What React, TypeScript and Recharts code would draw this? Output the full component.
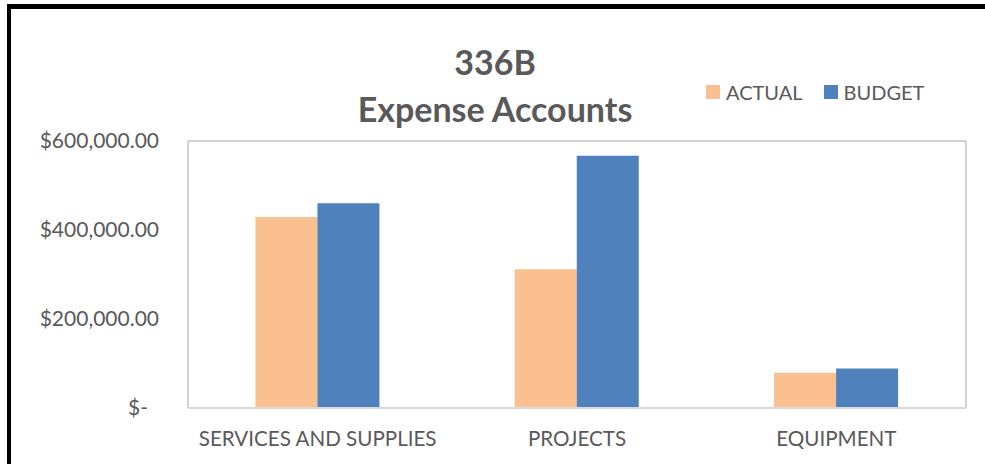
import { BarChart, Bar, XAxis, YAxis, Legend, ReferenceArea } from "recharts"

const categories = ["SERVICES AND SUPPLIES", "PROJECTS", "EQUIPMENT"]
const actual = [429000, 312000, 79000]
const budget = [460000, 567000, 89000]
const yTicks = [0, 200000, 400000, 600000]

const data = categories.map((name, i) => ({ name, ACTUAL: actual[i], BUDGET: budget[i] }))

const font = "Lato, 'Open Sans', sans-serif"
const textColor = "#595959"

function money(v: number) {
  if (v === 0) return "$-"
  return "$" + v.toLocaleString("en-US", { minimumFractionDigits: 2, maximumFractionDigits: 2 })
}

function YTick({ x, y, payload }: any) {
  const v = payload.value
  // excel accounting format leaves trailing space after "$-"
  return (
    <text x={v === 0 ? x - 11 : x} y={y} dy="0.35em" textAnchor="end" fill={textColor} fontSize={21} fontFamily={font}>
      {money(v)}
    </text>
  )
}

function XTick({ x, y, payload }: any) {
  return (
    <text x={x} y={y} dy="0.71em" textAnchor="middle" fill={textColor} fontSize={20.6} fontFamily={font}>
      {payload.value}
    </text>
  )
}

function LegendContent({ payload }: any) {
  return (
    <div style={{ display: "flex", alignItems: "center", fontFamily: font, fontSize: 20, color: textColor }}>
      {(payload || []).map((p: any, i: number) => (
        <div key={p.value} style={{ display: "flex", alignItems: "center", marginRight: i === 0 ? 21 : 0 }}>
          <span style={{ width: 14, height: 14, background: p.color, marginRight: 6, display: "inline-block" }} />
          <span>{p.value}</span>
        </div>
      ))}
    </div>
  )
}

export default function App() {
  return (
    <div style={{ position: "absolute", left: 0, top: 0, width: 985, height: 464, overflow: "hidden", background: "#fff" }}>
      <div style={{ position: "absolute", left: 7, top: 4, width: 2000, height: 2000, borderLeft: "4px solid #000", borderTop: "5px solid #000" }} />
      <div
        style={{
          position: "absolute",
          left: 0,
          top: 38,
          width: 990,
          textAlign: "center",
          fontFamily: font,
          fontWeight: 700,
          fontSize: 34,
          lineHeight: "47px",
          color: textColor,
        }}
      >
        <div>336B</div>
        <div>Expense Accounts</div>
      </div>
      <BarChart
        width={985}
        height={464}
        data={data}
        margin={{ top: 141, right: 19, bottom: 16, left: 8 }}
        barCategoryGap="26%"
        barGap={0}
      >
        <ReferenceArea y1={0} y2={600000} fill="none" stroke="#a6a6a6" strokeWidth={1} />
        <XAxis
          dataKey="name"
          height={40}
          tickLine={false}
          tickSize={0}
          tickMargin={23}
          axisLine={{ stroke: "#d9d9d9", strokeWidth: 2 }}
          tick={<XTick />}
        />
        <YAxis
          width={180}
          domain={[0, 600000]}
          ticks={yTicks}
          axisLine={false}
          tickLine={false}
          tickSize={0}
          tickMargin={29}
          tick={<YTick />}
        />
        <Legend
          layout="horizontal"
          verticalAlign="middle"
          align="center"
          content={<LegendContent />}
          wrapperStyle={{ top: 80, left: 706, width: "auto" }}
        />
        <Bar dataKey="ACTUAL" fill="#FAC090" isAnimationActive={false} />
        <Bar dataKey="BUDGET" fill="#4F81BD" isAnimationActive={false} />
      </BarChart>
    </div>
  )
}
